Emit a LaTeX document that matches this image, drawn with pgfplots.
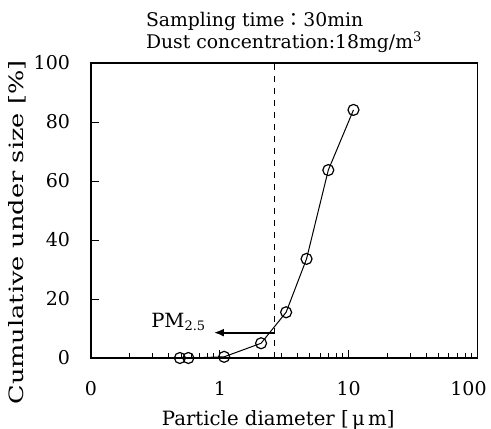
\documentclass[border=0pt]{standalone}
\usepackage{fontspec}
\setmainfont{DejaVu Serif}
\newfontfamily\cjk{Noto Sans CJK JP}
\usepackage{pgfplots}
\pgfplotsset{compat=1.18}
\usetikzlibrary{arrows.meta}

\begin{document}
\begin{tikzpicture}
\useasboundingbox (-45.5pt,-35pt) rectangle (200pt,179pt);
\begin{axis}[
    scale only axis,
    width=193.25pt, height=147.5pt,
    xmode=log,
    xmin=0.1, xmax=100,
    ymin=0, ymax=100,
    xtick={0.1,1,10,100},
    xticklabels={0,1,10,{\hspace*{-9pt}100}},
    ytick={0,20,40,60,80,100},
    tick pos=left,
    tick align=inside,
    major tick length=4pt,
    minor tick length=2.5pt,
    axis line style={line width=0.7pt},
    every tick/.style={black, line width=0.5pt},
    font=\fontsize{9.5}{11}\selectfont,
    /pgf/number format/assume math mode=true,
    xticklabel style={yshift=-8pt},
    yticklabel style={xshift=-7pt},
    xlabel={Particle diameter [\,μ\,m]},
    ylabel={Cumulative under size [\%]},
    xlabel style={font=\fontsize{9.85}{11}\selectfont, yshift=-0.5pt, xshift=-3pt},
    ylabel style={font=\fontsize{9.85}{11}\selectfont, xscale=1.3, yshift=-3pt, xshift=-8.5pt},
    title={Sampling time{\cjk ：}30min\\Dust concentration:18mg/m\textsuperscript{3}},
    title style={font=\fontsize{9.4}{11}\selectfont, align=left, yshift=-4.5pt},
    clip=false,
]
\addplot[black, line width=0.5pt, mark=o, mark size=2.75pt,
    mark options={fill=white, line width=0.6pt}]
    coordinates {
    (0.49,0) (0.57,0) (1.08,0.4) (2.09,5.0) (3.27,15.5) (4.71,33.6) (6.95,63.7) (10.9,84.1)
    };
\addplot[black, dashed, line width=0.5pt] coordinates {(2.64,0) (2.64,100)};
\draw[-{Latex[length=5pt,width=4pt]}, line width=0.9pt] (axis cs:2.64,8.6) -- (axis cs:0.9,8.6);
\node[anchor=base east, inner sep=0pt, font=\fontsize{9.8}{12}\selectfont]
    at (axis cs:0.79,10.2) {PM\textsubscript{\fontsize{6.5}{7}\selectfont 2.5}};
\end{axis}
\end{tikzpicture}
\end{document}
